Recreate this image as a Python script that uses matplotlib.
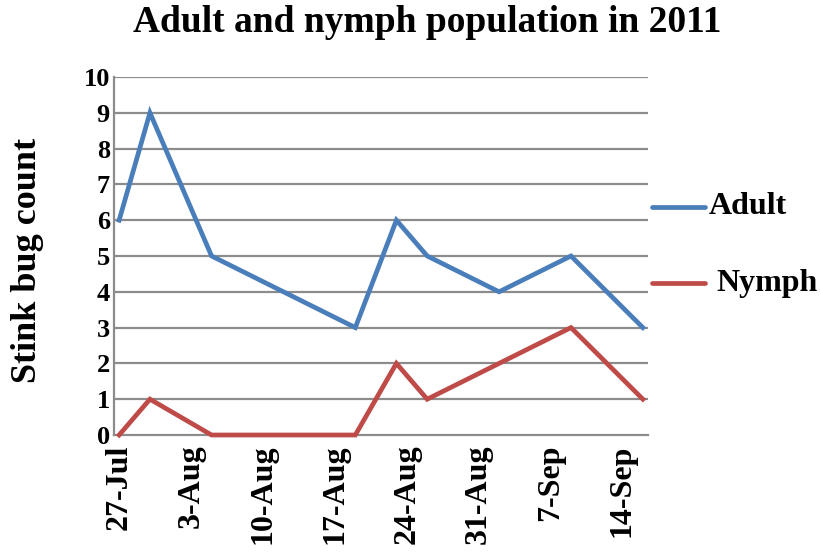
import matplotlib
matplotlib.use("Agg")
import matplotlib.pyplot as plt
from matplotlib.lines import Line2D
import pandas as pd

# Weekly sampling dates (2011) and counts
dates = ["2011-07-27", "2011-07-30", "2011-08-05", "2011-08-19", "2011-08-23",
         "2011-08-26", "2011-09-02", "2011-09-09", "2011-09-16"]
adult = [6, 9, 5, 3, 6, 5, 4, 5, 3]
nymph = [0, 1, 0, 0, 2, 1, 2, 3, 1]
tick_dates = ["2011-07-27", "2011-08-03", "2011-08-10", "2011-08-17",
              "2011-08-24", "2011-08-31", "2011-09-07", "2011-09-14"]
tick_labels = ["27-Jul", "3-Aug", "10-Aug", "17-Aug", "24-Aug", "31-Aug", "7-Sep", "14-Sep"]
y_ticks = list(range(0, 11))

blue = "#4A7EBB"
red = "#BE4B48"
grid_c = "#8C8C8C"
serif = ["Liberation Serif", "DejaVu Serif"]

x = pd.to_datetime(dates)
xt = pd.to_datetime(tick_dates)

fig = plt.figure(figsize=(8.21, 5.56), dpi=100)
ax = fig.add_axes([114 / 821, 1 - 435 / 556, (648 - 114) / 821, (435 - 77) / 556])

for v in y_ticks[1:]:
    ax.axhline(v, color=grid_c, lw=1.6, zorder=1)

ax.plot(x, adult, color=blue, lw=3.4, solid_joinstyle="miter", zorder=3, clip_on=False)
ax.plot(x, nymph, color=red, lw=3.4, solid_joinstyle="miter", zorder=3, clip_on=False)

ax.set_xlim(pd.Timestamp("2011-07-26 12:00"), pd.Timestamp("2011-09-16 12:00"))
ax.set_ylim(0, 10)
ax.set_yticks(y_ticks)
ax.set_yticklabels([str(v) for v in y_ticks], fontfamily=serif, fontweight="bold", fontsize=19)
ax.set_xticks(xt)
ax.set_xticklabels(tick_labels, rotation=90, fontfamily=serif, fontweight="bold", fontsize=23)
ax.tick_params(axis="both", length=0)
ax.tick_params(axis="y", pad=3)
ax.tick_params(axis="x", pad=7)

for s in ["top", "right"]:
    ax.spines[s].set_visible(False)
ax.spines["left"].set_color(grid_c)
ax.spines["left"].set_linewidth(1.6)
ax.spines["bottom"].set_color(grid_c)
ax.spines["bottom"].set_linewidth(1.6)

fig.text(27 / 821, 1 - 260 / 556, "Stink bug count", rotation=90, ha="center", va="center",
         fontfamily=serif, fontweight="bold", fontsize=26)
fig.text(427 / 821, 1 - 23 / 556, "Adult and nymph population in 2011", ha="center", va="center",
         fontfamily=serif, fontweight="bold", fontsize=27)

# Legend entries at the right of the plot
for ypix, col, lab, tx in [(207, blue, "Adult", 709), (283, red, "Nymph", 716)]:
    yf = 1 - ypix / 556
    fig.add_artist(Line2D([652 / 821, 705 / 821], [yf, yf], color=col, lw=3.4,
                          solid_capstyle="round", transform=fig.transFigure))
    fig.text(tx / 821, yf, lab, ha="left", va="center", fontfamily=serif,
             fontweight="bold", fontsize=23)

fig.savefig("out.png", dpi=100)
